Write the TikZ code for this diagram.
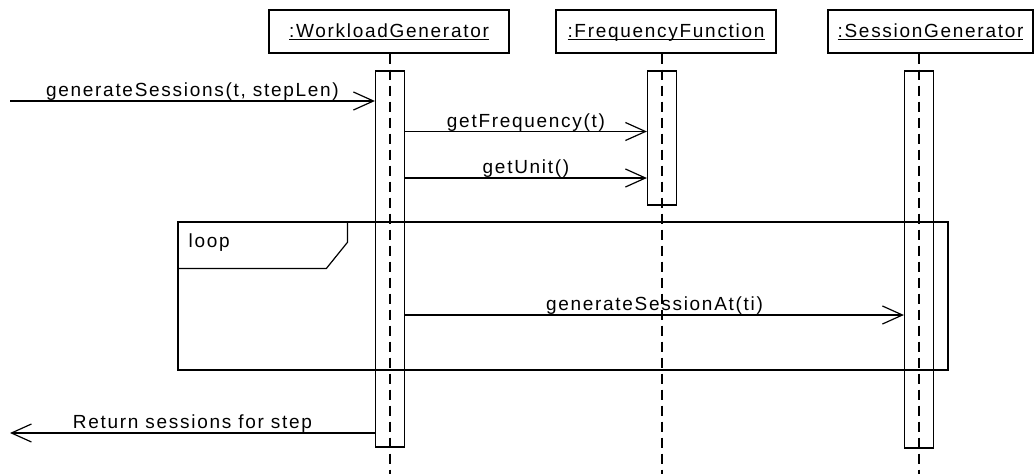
\documentclass[tikz,border=0pt]{standalone}
\usepackage{fontspec}
\setmainfont[LetterSpace=9]{Liberation Sans}
\usetikzlibrary{arrows.meta}

\begin{document}
\begin{tikzpicture}[x=1pt,y=-1pt,line width=1.2pt,font=\fontsize{19}{22}\selectfont]
\tikzset{object/.style = {draw, minimum height=43pt, inner sep=0pt},
  activation/.style = {draw, minimum width=29pt, inner sep=0pt},
  lifeline/.style = {dash pattern=on 10pt off 6pt},
  msg/.style = {-{Straight Barb[length=20pt,width=18pt]}},
  msglabel/.style = {anchor=base, yshift=4.5pt, inner sep=0pt}}
\useasboundingbox (0,0) rectangle (1035,474);

\node[object, minimum width=240pt] (wg) at (389,31.5) {\underbar{:WorkloadGenerator}};
\node[object, minimum width=220pt] (ff) at (666,31.5) {\underbar{:FrequencyFunction}};
\node[object, minimum width=205pt] (sg) at (930.5,31.5) {\underbar{:SessionGenerator}};

\coordinate (wgl) at (390,474);
\coordinate (ffl) at (662,474);
\coordinate (sgl) at (919,474);
\draw[lifeline] (wg.south -| wgl) -- (wgl);
\draw[lifeline] (ff.south -| ffl) -- (ffl);
\draw[lifeline] (sg.south -| sgl) -- (sgl);

\node[activation, minimum height=376pt] (wgact) at (390,259) {};
\node[activation, minimum height=134pt] (ffact) at (662,138) {};
\node[activation, minimum height=377pt] (sgact) at (919,259.5) {};

\tikzstyle{frame}=[draw, minimum width=770pt, minimum height=148pt, inner sep=0pt];
\node[frame] (loopbox) at (563,296) {};
\draw (loopbox.north west) ++(170,0) -- ++(0,21) -- ++(-21,26) -- ++(-149,0);
\node[anchor=base west, inner sep=0pt] (looplabel) at (188,247) {loop};

\coordinate (caller) at (10,101);
\coordinate (freq) at (0,131.5);
\coordinate (unit) at (0,178);
\coordinate (sess) at (0,315);
\coordinate (back) at (10,433);

\draw[msg] (caller) -- (caller -| wgact.west) node[msglabel, midway] {generateSessions(t, stepLen)};
\draw[msg] (freq -| wgact.east) -- (freq -| ffact.west) node[msglabel, midway] {getFrequency(t)};
\draw[msg] (unit -| wgact.east) -- (unit -| ffact.west) node[msglabel, midway] {getUnit()};
\draw[msg] (sess -| wgact.east) -- (sess -| sgact.west) node[msglabel, midway] {generateSessionAt(ti)};
\draw[msg] (back -| wgact.west) -- (back) node[msglabel, midway] {Return sessions for step};

\end{tikzpicture}
\end{document}
